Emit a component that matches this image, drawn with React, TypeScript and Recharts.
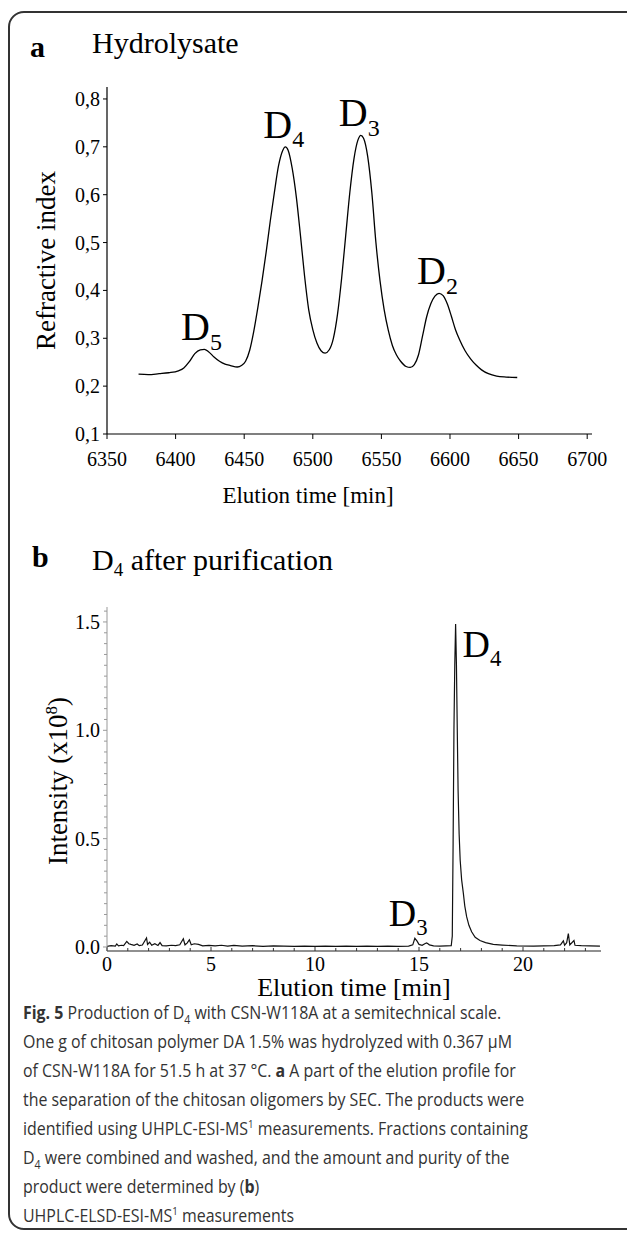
import React from "react";
import { LineChart, Line, XAxis, YAxis, ReferenceDot, Label } from "recharts";

const SERIF = '"Liberation Serif", "Times New Roman", serif';
const SANS = '"Open Sans", "Noto Sans", sans-serif';

// panel a: SEC elution profile, refractive index vs elution time
const secTime = [
  6373, 6380, 6388, 6395, 6402, 6406, 6410, 6414, 6418, 6421, 6424, 6428, 6432,
  6436, 6440, 6445, 6448, 6451, 6454, 6457, 6460, 6463, 6466, 6469, 6472, 6475,
  6478, 6480, 6482, 6485, 6488, 6491, 6494, 6497, 6500, 6503, 6506, 6509, 6512,
  6515, 6518, 6521, 6524, 6527, 6530, 6533, 6535, 6537, 6540, 6543, 6546, 6549,
  6552, 6555, 6558, 6561, 6564, 6568, 6571, 6574, 6577, 6580, 6583, 6586, 6589,
  6592, 6595, 6598, 6601, 6604, 6607, 6611, 6615, 6619, 6623, 6628, 6634, 6641,
  6649,
];
const secRI = [
  0.225, 0.224, 0.226, 0.228, 0.232, 0.238, 0.251, 0.268, 0.276, 0.277, 0.272,
  0.261, 0.252, 0.246, 0.243, 0.24, 0.243, 0.252, 0.275, 0.315, 0.365, 0.42,
  0.48, 0.545, 0.605, 0.66, 0.692, 0.7, 0.693, 0.655, 0.595, 0.515, 0.43, 0.36,
  0.318, 0.29, 0.274, 0.269, 0.276, 0.3, 0.35, 0.425, 0.515, 0.605, 0.675,
  0.715, 0.724, 0.718, 0.68, 0.605, 0.5, 0.42, 0.36, 0.317, 0.285, 0.265, 0.252,
  0.241, 0.239, 0.245, 0.265, 0.305, 0.345, 0.372, 0.388, 0.394, 0.389, 0.372,
  0.346, 0.318, 0.297, 0.274, 0.257, 0.244, 0.234, 0.226, 0.221, 0.219, 0.218,
];
const secTicksX = [6350, 6400, 6450, 6500, 6550, 6600, 6650, 6700];
const secTicksY = [0.1, 0.2, 0.3, 0.4, 0.5, 0.6, 0.7, 0.8];
const secPeaks = [
  { name: "D", sub: "5", t: 6420, v: 0.277 },
  { name: "D", sub: "4", t: 6480, v: 0.7 },
  { name: "D", sub: "3", t: 6535, v: 0.724 },
  { name: "D", sub: "2", t: 6592, v: 0.394 },
];

// panel b: UHPLC-ELSD-ESI-MS chromatogram after purification
const msTime = [
  0, 0.2, 0.4, 0.47, 0.55, 0.7, 0.8, 0.95, 1.05, 1.15, 1.3, 1.45, 1.55, 1.7,
  1.9, 1.95, 2.05, 2.15, 2.3, 2.45, 2.55, 2.65, 2.85, 3.1, 3.3, 3.5, 3.67, 3.75,
  3.85, 3.96, 4.05, 4.2, 4.4, 4.6, 4.9, 5.2, 5.5, 5.8, 6.1, 6.5, 7, 7.5, 8, 8.5,
  9, 9.5, 10, 10.5, 11, 11.5, 12, 12.5, 13, 13.5, 14, 14.5, 14.7, 14.8, 14.9,
  15, 15.15, 15.3, 15.37, 15.5, 15.7, 16, 16.3, 16.55, 16.6, 16.64, 16.68,
  16.72, 16.76, 16.8, 16.84, 16.88, 16.93, 16.98, 17.05, 17.13, 17.2, 17.29,
  17.4, 17.53, 17.7, 17.93, 18.2, 18.57, 19, 19.7, 20.5, 21, 21.5, 21.8, 21.94,
  22, 22.1, 22.18, 22.25, 22.45, 22.5, 22.8, 23.2, 23.7,
];
const msIntensity = [
  0.003, 0.006, 0.004, 0.014, 0.005, 0.008, 0.006, 0.026, 0.015, 0.012, 0.008,
  0.014, 0.006, 0.009, 0.042, 0.012, 0.022, 0.008, 0.015, 0.007, 0.02, 0.006,
  0.005, 0.008, 0.006, 0.01, 0.038, 0.01, 0.018, 0.033, 0.01, 0.015, 0.012,
  0.005, 0.007, 0.005, 0.008, 0.004, 0.007, 0.004, 0.006, 0.003, 0.005, 0.004,
  0.003, 0.004, 0.003, 0.004, 0.003, 0.004, 0.003, 0.004, 0.003, 0.004, 0.003,
  0.004, 0.01, 0.04, 0.028, 0.012, 0.008, 0.016, 0.019, 0.01, 0.005, 0.004,
  0.005, 0.006, 0.05, 0.48, 1.0, 1.3, 1.49, 1.3, 1.0, 0.72, 0.52, 0.4, 0.31,
  0.25, 0.19, 0.14, 0.1, 0.07, 0.045, 0.03, 0.02, 0.012, 0.009, 0.005, 0.004,
  0.005, 0.006, 0.01, 0.028, 0.008, 0.02, 0.062, 0.01, 0.03, 0.008, 0.006,
  0.005, 0.004,
];
const msMajorX = [0, 5, 10, 15, 20];
const msTicksX = [
  0, 1, 2, 3, 4, 5, 6, 7, 8, 9, 10, 11, 12, 13, 14, 15, 16, 17, 18, 19, 20, 21,
  22, 23,
];
const msMajorY = [0, 0.5, 1, 1.5];
const msTicksY = [
  0, 0.05, 0.1, 0.15, 0.2, 0.25, 0.3, 0.35, 0.4, 0.45, 0.5, 0.55, 0.6, 0.65,
  0.7, 0.75, 0.8, 0.85, 0.9, 0.95, 1, 1.05, 1.1, 1.15, 1.2, 1.25, 1.3, 1.35,
  1.4, 1.45, 1.5, 1.55,
];
const msPeaks = [
  { name: "D", sub: "4", t: 16.76, v: 1.49 },
  { name: "D", sub: "3", t: 14.8, v: 0.04 },
];

const secData = secTime.map((t, i) => ({ t, ri: secRI[i] }));
const msData = msTime.map((t, i) => ({ t, y: msIntensity[i] }));

const PeakLabel = ({ cx, cy, name, sub, dx, dy, size }: any) => (
  <text x={cx + dx} y={cy + dy} fontFamily={SERIF} fontSize={size} fill="#000">
    {name}
    <tspan fontSize={size * 0.6} dy={size * 0.24}>
      {sub}
    </tspan>
  </text>
);

const SecXTick = ({ x, y, payload }: any) => (
  <g>
    <line x1={x} x2={x} y1={y} y2={y + 5} stroke="#000" />
    <text x={x} y={y + 32} textAnchor="middle" fontFamily={SERIF} fontSize={20} fill="#000">
      {payload.value}
    </text>
  </g>
);

const SecYTick = ({ x, y, payload }: any) => (
  <g>
    <line x1={x} x2={x - 4} y1={y} y2={y} stroke="#000" />
    <text x={x - 7} y={y} dy="0.35em" textAnchor="end" fontFamily={SERIF} fontSize={20} fill="#000">
      {payload.value.toFixed(1).replace(".", ",")}
    </text>
  </g>
);

const MsXTick = ({ x, y, payload }: any) => {
  const major = msMajorX.includes(payload.value);
  return (
    <g>
      <line x1={x} x2={x} y1={y} y2={y - (major ? 4 : 3)} stroke="#333" />
      {major && (
        <text x={x} y={y + 20} textAnchor="middle" fontFamily={SERIF} fontSize={20} fill="#000">
          {payload.value}
        </text>
      )}
    </g>
  );
};

const MsYTick = ({ x, y, payload }: any) => {
  const major = msMajorY.some((m) => Math.abs(m - payload.value) < 1e-6);
  return (
    <g>
      <line x1={x} x2={x - (major ? 4 : 3)} y1={y} y2={y} stroke="#999" />
      {major && (
        <text x={x - 7} y={y} dy="0.35em" textAnchor="end" fontFamily={SERIF} fontSize={20} fill="#000">
          {payload.value.toFixed(1)}
        </text>
      )}
    </g>
  );
};

const abs = (left: number, top: number, extra: any = {}) => ({
  position: "absolute" as const,
  left,
  top,
  whiteSpace: "nowrap" as const,
  lineHeight: 1,
  ...extra,
});

export default function App() {
  return (
    <div style={{ position: "absolute", left: 0, top: 0, width: 627, height: 1238, overflow: "hidden", background: "#fff" }}>
      <div
        style={{
          position: "absolute",
          left: 8,
          top: 11,
          width: 700,
          height: 1219,
          border: "2px solid #333",
          borderRadius: 16,
          boxSizing: "border-box",
        }}
      />

      <div style={abs(30, 32, { fontFamily: SERIF, fontWeight: "bold", fontSize: 30 })}>a</div>
      <div style={abs(92, 28, { fontFamily: SERIF, fontSize: 30 })}>Hydrolysate</div>

      <div style={{ position: "absolute", left: 0, top: 0 }}>
        <LineChart width={627} height={530} data={secData} margin={{ top: 87, right: 35, bottom: 66, left: 0 }}>
          <XAxis
            type="number"
            dataKey="t"
            domain={[6350, 6703.5]}
            ticks={secTicksX}
            interval={0}
            allowDataOverflow
            height={30}
            tickSize={0}
            tickMargin={0}
            tickLine={false}
            axisLine={{ stroke: "#000", strokeWidth: 1.2 }}
            tick={<SecXTick />}
          >
            <Label
              content={({ viewBox }: any) => (
                <text
                  x={viewBox.x + 201}
                  y={viewBox.y + 69}
                  textAnchor="middle"
                  fontFamily={SERIF}
                  fontSize={23}
                  fill="#000"
                >
                  Elution time [min]
                </text>
              )}
            />
          </XAxis>
          <YAxis
            type="number"
            domain={[0.1, 0.825]}
            ticks={secTicksY}
            interval={0}
            allowDataOverflow
            width={107}
            tickSize={0}
            tickMargin={0}
            tickLine={false}
            axisLine={{ stroke: "#000", strokeWidth: 1.2 }}
            tick={<SecYTick />}
          >
            <Label
              content={({ viewBox }: any) => {
                const cx = viewBox.x + 46;
                const cy = viewBox.y + viewBox.height / 2;
                return (
                  <text
                    x={cx}
                    y={cy}
                    dy="0.35em"
                    textAnchor="middle"
                    transform={`rotate(-90, ${cx}, ${cy})`}
                    fontFamily={SERIF}
                    fontSize={27}
                    fill="#000"
                  >
                    Refractive index
                  </text>
                );
              }}
            />
          </YAxis>
          <Line type="monotone" dataKey="ri" stroke="#000" strokeWidth={1.3} dot={false} isAnimationActive={false} />
          {secPeaks.map((p) => (
            <ReferenceDot
              key={p.sub}
              x={p.t}
              y={p.v}
              r={0}
              ifOverflow="visible"
              shape={(s: any) => (
                <PeakLabel cx={s.cx} cy={s.cy} name={p.name} sub={p.sub} dx={-22} dy={-9} size={40} />
              )}
            />
          ))}
        </LineChart>
      </div>

      <div style={abs(32, 542, { fontFamily: SERIF, fontWeight: "bold", fontSize: 30 })}>b</div>
      <div style={abs(92, 545, { fontFamily: SERIF, fontSize: 30 })}>
        D<span style={{ fontSize: 19, verticalAlign: "-6px" }}>4</span> after purification
      </div>

      <div style={{ position: "absolute", left: 0, top: 560 }}>
        <LineChart width={627} height={460} data={msData} margin={{ top: 47, right: 26, bottom: 39, left: 0 }}>
          <XAxis
            type="number"
            dataKey="t"
            domain={[0, 23.75]}
            ticks={msTicksX}
            interval={0}
            allowDataOverflow
            height={30}
            tickSize={0}
            tickMargin={0}
            tickLine={false}
            axisLine={{ stroke: "#222", strokeWidth: 1.2 }}
            tick={<MsXTick />}
          >
            <Label
              content={({ viewBox }: any) => (
                <text
                  x={viewBox.x + viewBox.width / 2}
                  y={viewBox.y + 45}
                  textAnchor="middle"
                  fontFamily={SERIF}
                  fontSize={26}
                  fill="#000"
                >
                  Elution time [min]
                </text>
              )}
            />
          </XAxis>
          <YAxis
            type="number"
            domain={[-0.0185, 1.569]}
            ticks={msTicksY}
            interval={0}
            allowDataOverflow
            width={107}
            tickSize={0}
            tickMargin={0}
            tickLine={false}
            axisLine={{ stroke: "#999" }}
            tick={<MsYTick />}
          >
            <Label
              content={({ viewBox }: any) => {
                const cx = viewBox.x + 58;
                const cy = viewBox.y + viewBox.height / 2 + 2;
                return (
                  <text
                    x={cx}
                    y={cy}
                    dy="0.35em"
                    textAnchor="middle"
                    transform={`rotate(-90, ${cx}, ${cy})`}
                    fontFamily={SERIF}
                    fontSize={27}
                    fill="#000"
                  >
                    Intensity (x10
                    <tspan fontSize={17} dy={-10}>
                      8
                    </tspan>
                    <tspan dy={10}>)</tspan>
                  </text>
                );
              }}
            />
          </YAxis>
          <Line type="linear" dataKey="y" stroke="#111" strokeWidth={1.2} dot={false} isAnimationActive={false} />
          <ReferenceDot
            x={msPeaks[0].t}
            y={msPeaks[0].v}
            r={0}
            ifOverflow="visible"
            shape={(s: any) => (
              <PeakLabel cx={s.cx} cy={s.cy} name={msPeaks[0].name} sub={msPeaks[0].sub} dx={7} dy={33} size={38} />
            )}
          />
          <ReferenceDot
            x={msPeaks[1].t}
            y={msPeaks[1].v}
            r={0}
            ifOverflow="visible"
            shape={(s: any) => (
              <PeakLabel cx={s.cx} cy={s.cy} name={msPeaks[1].name} sub={msPeaks[1].sub} dx={-26} dy={-12} size={38} />
            )}
          />
        </LineChart>
      </div>

      <div
        style={{
          position: "absolute",
          left: 23,
          top: 998,
          fontFamily: SANS,
          fontSize: 18,
          lineHeight: "29px",
          color: "#333",
          whiteSpace: "nowrap",
          transform: "scaleX(0.885)",
          transformOrigin: "left top",
        }}
      >
        <div>
          <b>Fig. 5</b> Production of D<sub style={{ fontSize: 12, lineHeight: 0 }}>4</sub> with CSN-W118A at a semitechnical scale.
        </div>
        <div>One g of chitosan polymer DA 1.5% was hydrolyzed with 0.367 µM</div>
        <div>
          of CSN-W118A for 51.5 h at 37 °C. <b>a</b> A part of the elution profile for
        </div>
        <div>the separation of the chitosan oligomers by SEC. The products were</div>
        <div>
          identified using UHPLC-ESI-MS<sup style={{ fontSize: 11, lineHeight: 0 }}>1</sup> measurements. Fractions containing
        </div>
        <div>
          D<sub style={{ fontSize: 12, lineHeight: 0 }}>4</sub> were combined and washed, and the amount and purity of the
        </div>
        <div>
          product were determined by (<b>b</b>)
        </div>
        <div>
          UHPLC-ELSD-ESI-MS<sup style={{ fontSize: 11, lineHeight: 0 }}>1</sup> measurements
        </div>
      </div>
    </div>
  );
}
